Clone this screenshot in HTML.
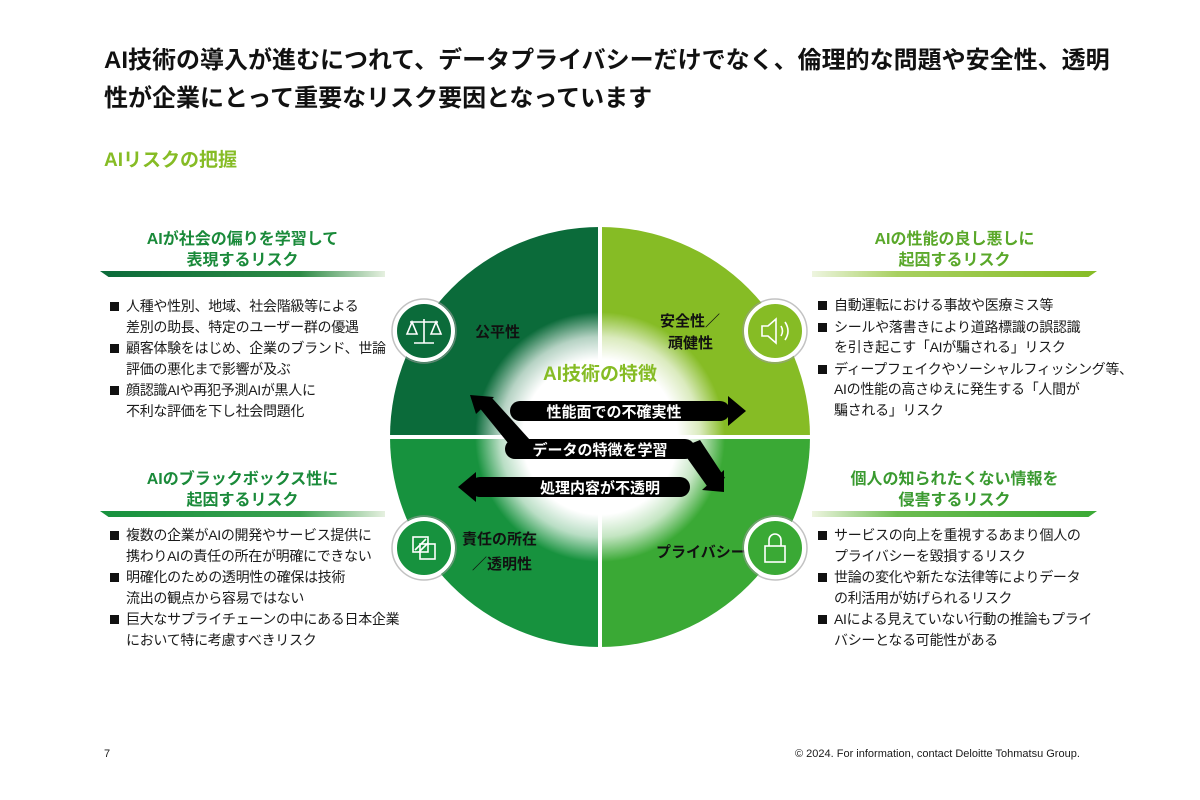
<!DOCTYPE html>
<html><head><meta charset="utf-8"><style>
body{margin:0;width:1200px;height:800px;background:#fff;position:relative;overflow:hidden;font-family:"Liberation Sans","Noto Sans CJK JP",sans-serif;color:#1a1a1a}
.a{position:absolute}
.t{left:104px;top:42px;font-size:24px;font-weight:bold;line-height:38px;width:1060px;color:#111;white-space:nowrap}
.st{left:104px;top:145px;font-size:19px;font-weight:bold;color:#86bc25}
.h{font-size:16px;font-weight:bold;line-height:21px;text-align:center;width:285px}
.bar{height:6px;width:285px}
ul{margin:0;padding:0;list-style:none;font-size:14px;line-height:20.5px;width:300px;white-space:nowrap;letter-spacing:-0.3px}
li{padding-left:18px;position:relative;margin-bottom:1px}
li:before{content:"";position:absolute;left:2px;top:6px;width:9px;height:9px;background:#111}
.foot{font-size:11px;top:748px}
</style></head><body>
<div class="a t">AI技術の導入が進むにつれて、データプライバシーだけでなく、倫理的な問題や安全性、透明<br>性が企業にとって重要なリスク要因となっています</div>
<div class="a st">AIリスクの把握</div>

<div class="a h" style="left:100px;top:229px;color:#1a8a3a">AIが社会の偏りを学習して<br>表現するリスク</div>
<div class="a bar" style="left:100px;top:271px;background:linear-gradient(90deg,#0b6b3a,#2d8a45 70%,#e6f0e0);clip-path:polygon(0 0,100% 0,100% 100%,3% 100%)"></div>
<ul class="a" style="left:108px;top:296px"><li>人種や性別、地域、社会階級等による<br>差別の助長、特定のユーザー群の優遇</li><li>顧客体験をはじめ、企業のブランド、世論<br>評価の悪化まで影響が及ぶ</li><li>顔認識AIや再犯予測AIが黒人に<br>不利な評価を下し社会問題化</li></ul>

<div class="a h" style="left:812px;top:229px;color:#5aa82a">AIの性能の良し悪しに<br>起因するリスク</div>
<div class="a bar" style="left:812px;top:271px;background:linear-gradient(90deg,#eef5e0,#a8d060 30%,#86bc25);clip-path:polygon(0 0,100% 0,97% 100%,0 100%)"></div>
<ul class="a" style="left:816px;top:295px"><li>自動運転における事故や医療ミス等</li><li>シールや落書きにより道路標識の誤認識<br>を引き起こす「AIが騙される」リスク</li><li>ディープフェイクやソーシャルフィッシング等、<br>AIの性能の高さゆえに発生する「人間が<br>騙される」リスク</li></ul>

<div class="a h" style="left:100px;top:469px;color:#1a8a3a">AIのブラックボックス性に<br>起因するリスク</div>
<div class="a bar" style="left:100px;top:511px;background:linear-gradient(90deg,#17923e,#3aa050 70%,#e6f0e0);clip-path:polygon(0 0,100% 0,100% 100%,3% 100%)"></div>
<ul class="a" style="left:108px;top:525px"><li>複数の企業がAIの開発やサービス提供に<br>携わりAIの責任の所在が明確にできない</li><li>明確化のための透明性の確保は技術<br>流出の観点から容易ではない</li><li>巨大なサプライチェーンの中にある日本企業<br>において特に考慮すべきリスク</li></ul>

<div class="a h" style="left:812px;top:469px;color:#3a9a30">個人の知られたくない情報を<br>侵害するリスク</div>
<div class="a bar" style="left:812px;top:511px;background:linear-gradient(90deg,#eef5e0,#6cbc50 30%,#3aa935);clip-path:polygon(0 0,100% 0,97% 100%,0 100%)"></div>
<ul class="a" style="left:816px;top:525px"><li>サービスの向上を重視するあまり個人の<br>プライバシーを毀損するリスク</li><li>世論の変化や新たな法律等によりデータ<br>の利活用が妨げられるリスク</li><li>AIによる見えていない行動の推論もプライ<br>バシーとなる可能性がある</li></ul>

<svg class="a" style="left:0;top:0" width="1200" height="800" viewBox="0 0 1200 800">
<defs><radialGradient id="g" cx="600" cy="437" r="125" gradientUnits="userSpaceOnUse">
<stop offset="0.62" stop-color="#fff"/><stop offset="0.8" stop-color="#fff" stop-opacity="0.7"/><stop offset="1" stop-color="#fff" stop-opacity="0"/></radialGradient></defs>
<path d="M600 437 L390 437 A210 210 0 0 1 600 227Z" fill="#0b6b3a"/>
<path d="M600 437 L600 227 A210 210 0 0 1 810 437Z" fill="#86bc25"/>
<path d="M600 437 L390 437 A210 210 0 0 0 600 647Z" fill="#17923e"/>
<path d="M600 437 L600 647 A210 210 0 0 0 810 437Z" fill="#3aa935"/>
<circle cx="600" cy="437" r="125" fill="url(#g)"/>
<rect x="598" y="220" width="4" height="435" fill="#fff"/>
<rect x="385" y="435" width="430" height="4" fill="#fff"/>
<text x="600" y="380" text-anchor="middle" font-size="19" font-weight="bold" fill="#86bc25">AI技術の特徴</text>
<g fill="#000">
<rect x="510" y="401" width="220" height="20" rx="10"/><polygon points="728,396 746,411 728,426"/>
<polygon points="478,406 492,398 530,440 512,448"/>
<polygon points="470,395 494,397 476,414"/>
<rect x="505" y="439" width="190" height="20" rx="10"/>
<polygon points="680,448 700,440 725,478 707,486"/>
<polygon points="724,470 724,492 702,490"/>
<rect x="470" y="477" width="220" height="20" rx="10"/><polygon points="476,472 458,487 476,502"/>
</g>
<g fill="#fff" font-size="15" font-weight="bold" text-anchor="middle">
<text x="614" y="417">性能面での不確実性</text>
<text x="600" y="455">データの特徴を学習</text>
<text x="600" y="493">処理内容が不透明</text>
</g>
<g fill="#111" font-size="15" font-weight="bold">
<text x="475" y="337">公平性</text>
<text x="660" y="326">安全性／</text><text x="668" y="348">頑健性</text>
<text x="462" y="544">責任の所在</text><text x="472" y="569">／透明性</text>
<text x="656" y="557">プライバシー</text>
</g>
<g stroke="#fff" stroke-width="4">
<circle cx="424" cy="331" r="29" fill="#0b6b3a"/>
<circle cx="775" cy="331" r="29" fill="#86bc25"/>
<circle cx="424" cy="548" r="29" fill="#17923e"/>
<circle cx="775" cy="548" r="29" fill="#3aa935"/>
</g>
<g stroke="#999" stroke-width="1.5" fill="none" opacity="0.6">
<circle cx="424" cy="331" r="32"/><circle cx="775" cy="331" r="32"/><circle cx="424" cy="548" r="32"/><circle cx="775" cy="548" r="32"/>
</g>
<g stroke="#fff" stroke-width="1.6" fill="none">
<path d="M424 319v24M414 343h20M410 322h28M412 322l-5 12h10zM436 322l-5 12h10z"/>
<path d="M762 326h6l8-7v24l-8-7h-6z M781 326q3 5 0 10 M785 322q6 9 0 18"/>
<rect x="413" y="537" width="15" height="15"/><rect x="420" y="544" width="15" height="15"/><path d="M415 550l11-11M419 552l9-9"/>
<rect x="765" y="546" width="20" height="16"/><path d="M769 546v-6a6 6 0 0 1 12 0v6"/>
</g>
</svg>
<div class="a foot" style="left:104px">7</div>
<div class="a foot" style="left:795px">© 2024. For information, contact Deloitte Tohmatsu Group.</div>
</body></html>
